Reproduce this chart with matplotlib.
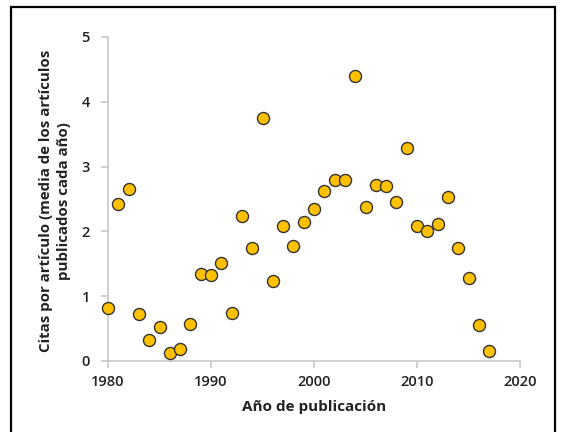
import matplotlib
matplotlib.use("Agg")
import matplotlib.pyplot as plt
from matplotlib.patches import Rectangle

years = list(range(1980, 2018))
citas = [0.82, 2.43, 2.65, 0.73, 0.33, 0.53, 0.12, 0.18, 0.57, 1.35,
         1.33, 1.52, 0.74, 2.23, 1.75, 3.75, 1.23, 2.08, 1.77, 2.15,
         2.35, 2.63, 2.80, 2.80, 4.40, 2.37, 2.72, 2.70, 2.45, 3.28,
         2.08, 2.01, 2.12, 2.53, 1.75, 1.28, 0.56, 0.15]
xticks = [1980, 1990, 2000, 2010, 2020]
yticks = [0, 1, 2, 3, 4, 5]

plt.rcParams['font.family'] = ['Open Sans', 'DejaVu Sans']

W, H = 562, 432
fig = plt.figure(figsize=(W/100, H/100), dpi=100)
ax = fig.add_axes([108/W, 1-361/H, (520-108)/W, (361-37)/H])

ax.scatter(years, citas, s=75, facecolor='#FFC000', edgecolor='#333333',
           linewidth=1.0, zorder=3, clip_on=False)

ax.set_xlim(1980, 2020)
ax.set_ylim(0, 5)
ax.set_xticks(xticks)
ax.set_yticks(yticks)
for s in ['top', 'right']:
    ax.spines[s].set_visible(False)
for s in ['left', 'bottom']:
    ax.spines[s].set_color('#c8c8c8')
    ax.spines[s].set_linewidth(1.2)
ax.tick_params(axis='both', colors='#c8c8c8', length=5, width=1.2,
               labelcolor='#222222', labelsize=10.5)
ax.tick_params(axis='y', pad=8)
ax.tick_params(axis='x', pad=5)
for lab in ax.get_xticklabels() + ax.get_yticklabels():
    lab.set_fontweight('semibold')

ax.set_xlabel('Año de publicación', fontsize=11, fontweight='bold',
              color='#222222', labelpad=8)
fig.text(55/W, 1-201/H,
         'Citas por artículo (media de los artículos\npublicados cada año)',
         rotation=90, ha='center', va='center', fontsize=10.8,
         fontweight='bold', color='#222222', linespacing=1.45)

fig.patches.append(Rectangle((11/W, -0.05), (555-11)/W, 1.05 - 7/H,
                             transform=fig.transFigure, fill=False,
                             edgecolor='black', linewidth=1.6))

fig.savefig('out.png', dpi=100)
